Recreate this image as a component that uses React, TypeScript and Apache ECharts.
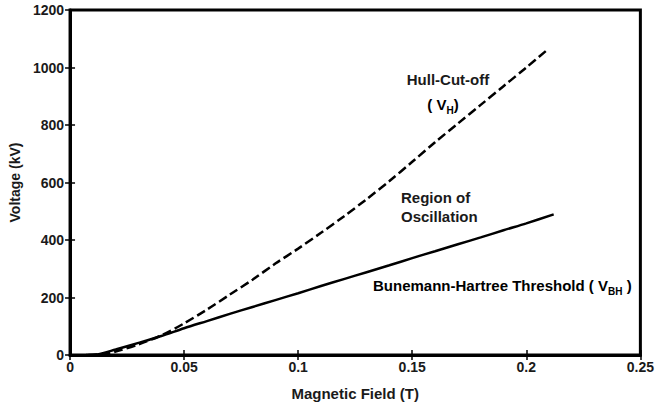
import React, { useEffect, useRef } from "react";
import * as echarts from "echarts";

// Magnetic field (T) and the Hull cut-off voltage (kV)
const hullField = [0.008, 0.015, 0.02, 0.03, 0.04, 0.05, 0.06, 0.07, 0.08, 0.09, 0.1, 0.11, 0.12, 0.13, 0.14, 0.15, 0.16, 0.17, 0.18, 0.19, 0.2, 0.209];
const hullVoltage = [0, 4, 12, 37, 68, 110, 158, 210, 262, 318, 370, 425, 482, 542, 605, 672, 740, 805, 870, 935, 1000, 1060];

// Magnetic field (T) and the Bunemann-Hartree threshold voltage (kV)
const bhField = [0.007, 0.012, 0.02, 0.03, 0.04, 0.05, 0.06, 0.07, 0.08, 0.09, 0.1, 0.11, 0.12, 0.13, 0.14, 0.15, 0.16, 0.17, 0.18, 0.19, 0.2, 0.212];
const bhVoltage = [0, 2, 19, 42, 66, 93, 118, 143, 167, 191, 215, 240, 264, 288, 312, 337, 361, 385, 409, 434, 458, 489];

const xTicks = { min: 0, max: 0.25, interval: 0.05 };
const yTicks = { min: 0, max: 1200, interval: 200 };

const FONT = "'Liberation Sans', Arial, sans-serif";
const INK = "#1a1a1a";

const pairs = (xs: number[], ys: number[]) => xs.map((x, i) => [x, ys[i]]);

export default function App() {
  const ref = useRef<HTMLDivElement>(null);

  useEffect(() => {
    document.body.style.margin = "0";
    if (!ref.current) return;
    const chart = echarts.init(ref.current, undefined, { renderer: "svg" });

    const frameLine = () => ({ show: true, onZero: false, lineStyle: { color: "#000", width: 3 } });
    const innerTick = () => ({ show: true, inside: true, length: 5, lineStyle: { color: "#000", width: 1.5 } });
    const labelStyle = { color: INK, fontFamily: FONT, fontWeight: "bold" as const, fontSize: 14 };

    const textStyle = {
      fontFamily: FONT,
      fontWeight: "bold" as const,
      fontSize: 15,
      fill: INK,
    };
    const richSub = {
      n: { fontFamily: FONT, fontWeight: "bold" as const, fontSize: 15, lineHeight: 22, color: INK },
      s: { fontFamily: FONT, fontWeight: "bold" as const, fontSize: 10, lineHeight: 12, verticalAlign: "bottom" as const, color: INK },
    };

    chart.setOption({
      animation: false,
      backgroundColor: "#fff",
      grid: {
        left: 63,
        right: 8,
        top: 10,
        bottom: 51,
        containLabel: false,
        show: true,
        borderColor: "#000",
        borderWidth: 3,
        backgroundColor: "transparent",
      },
      xAxis: [
        {
          type: "value",
          ...xTicks,
          position: "bottom",
          axisLine: frameLine(),
          axisTick: innerTick(),
          splitLine: { show: false },
          axisLabel: { ...labelStyle, margin: 5, formatter: (v: number) => String(v) },
          name: "Magnetic Field (T)",
          nameLocation: "middle",
          nameGap: 31,
          nameTextStyle: { ...labelStyle, fontSize: 15 },
        },
        {
          type: "value",
          ...xTicks,
          position: "top",
          axisLine: { show: false },
          axisTick: innerTick(),
          splitLine: { show: false },
          axisLabel: { show: false },
        },
      ],
      yAxis: [
        {
          type: "value",
          ...yTicks,
          position: "left",
          axisLine: frameLine(),
          axisTick: innerTick(),
          splitLine: { show: false },
          axisLabel: { ...labelStyle, margin: 6, formatter: (v: number) => String(v) },
          name: "Voltage (kV)",
          nameLocation: "middle",
          nameGap: 47,
          nameTextStyle: { ...labelStyle },
        },
        {
          type: "value",
          ...yTicks,
          position: "right",
          axisLine: { show: false },
          axisTick: innerTick(),
          splitLine: { show: false },
          axisLabel: { show: false },
        },
      ],
      series: [
        {
          name: "Hull-Cut-off",
          type: "line",
          data: pairs(hullField, hullVoltage),
          smooth: 0.3,
          showSymbol: false,
          lineStyle: { color: "#000", width: 2.5, type: [9, 4] },
        },
        {
          name: "Bunemann-Hartree Threshold",
          type: "line",
          data: pairs(bhField, bhVoltage),
          smooth: 0.3,
          showSymbol: false,
          lineStyle: { color: "#000", width: 2.5 },
        },
      ],
      graphic: [
        { type: "text", x: 448, y: 79, style: { ...textStyle, text: "Hull-Cut-off", align: "center", verticalAlign: "middle" } },
        {
          type: "text",
          x: 443,
          y: 104,
          style: {
            text: "{n|( V}{s|H}{n|)}",
            rich: richSub,
            align: "center",
            verticalAlign: "middle",
          },
        },
        { type: "text", x: 401, y: 197, style: { ...textStyle, text: "Region of", align: "left", verticalAlign: "middle" } },
        { type: "text", x: 401, y: 216, style: { ...textStyle, text: "Oscillation", align: "left", verticalAlign: "middle" } },
        {
          type: "text",
          x: 373,
          y: 285,
          style: {
            text: "{n|Bunemann-Hartree Threshold ( V}{s|BH}{n| )}",
            rich: richSub,
            align: "left",
            verticalAlign: "middle",
          },
        },
      ],
    });

    return () => chart.dispose();
  }, []);

  return <div ref={ref} style={{ width: 657, height: 406 }} />;
}
